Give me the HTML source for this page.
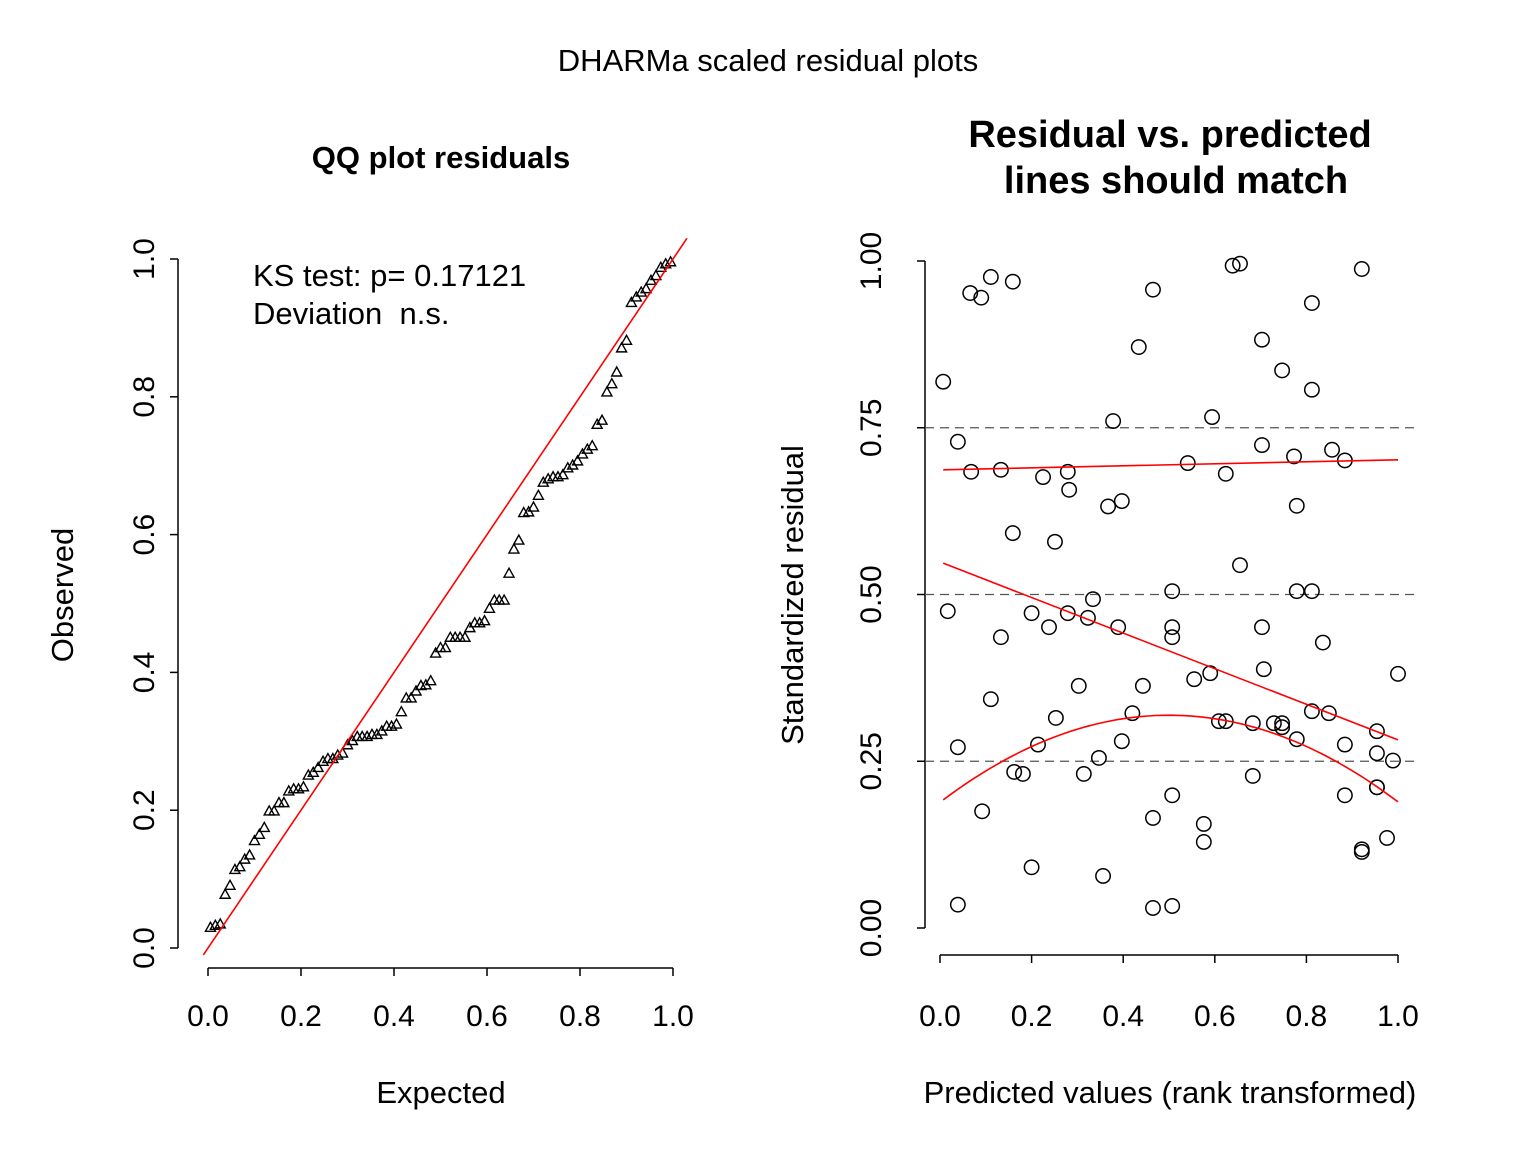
<!DOCTYPE html>
<html><head><meta charset="utf-8"><style>
body{margin:0;background:#fff}
svg{display:block;font-family:"Liberation Sans",Arial,sans-serif}
</style></head><body>
<svg id="chart" width="1536" height="1152" viewBox="0 0 1536 1152" xmlns="http://www.w3.org/2000/svg">
<rect width="1536" height="1152" fill="#fff"/>
<text x="768" y="71" font-size="31" text-anchor="middle">DHARMa scaled residual plots</text>
<text x="441" y="168" font-size="31" font-weight="bold" text-anchor="middle">QQ plot residuals</text>
<text x="1170" y="147" font-size="38" font-weight="bold" text-anchor="middle">Residual vs. predicted</text>
<text x="1176" y="193" font-size="38" font-weight="bold" text-anchor="middle">lines should match</text>
<text x="441" y="1103" font-size="31" text-anchor="middle">Expected</text>
<text transform="translate(73,595) rotate(-90)" font-size="31" text-anchor="middle">Observed</text>
<text x="1170" y="1103" font-size="31" text-anchor="middle">Predicted values (rank transformed)</text>
<text transform="translate(803,595) rotate(-90)" font-size="31" text-anchor="middle">Standardized residual</text>
<text x="253" y="286" font-size="31">KS test: p= 0.17121</text>
<text x="253" y="324" font-size="31" style="white-space:pre" xml:space="preserve">Deviation  n.s.</text>
<g id="left"></g>
<g id="right"></g>
</svg>
<script>
const predicted = [0.007,0.017,0.039,0.039,0.039,0.066,0.068,0.09,0.092,0.111,0.111,0.133,0.133,0.159,0.159,0.162,0.181,0.2,0.2,0.214,0.225,0.238,0.251,0.253,0.279,0.279,0.282,0.303,0.314,0.323,0.334,0.347,0.356,0.367,0.378,0.389,0.397,0.397,0.42,0.434,0.443,0.465,0.465,0.465,0.507,0.507,0.507,0.507,0.507,0.541,0.555,0.576,0.576,0.59,0.594,0.609,0.624,0.624,0.639,0.655,0.655,0.683,0.683,0.703,0.703,0.703,0.707,0.729,0.747,0.747,0.747,0.773,0.779,0.779,0.779,0.812,0.812,0.812,0.812,0.836,0.849,0.856,0.884,0.884,0.884,0.921,0.921,0.921,0.954,0.954,0.954,0.954,0.976,0.989,1.0];
const residual = [0.819,0.475,0.729,0.271,0.035,0.952,0.684,0.945,0.175,0.976,0.343,0.687,0.436,0.969,0.592,0.234,0.231,0.472,0.091,0.275,0.676,0.451,0.579,0.315,0.472,0.684,0.657,0.363,0.231,0.465,0.493,0.255,0.078,0.632,0.76,0.451,0.64,0.28,0.322,0.871,0.363,0.957,0.165,0.03,0.505,0.451,0.436,0.199,0.033,0.697,0.373,0.156,0.129,0.382,0.766,0.31,0.681,0.31,0.993,0.996,0.544,0.307,0.228,0.882,0.724,0.451,0.388,0.307,0.301,0.836,0.307,0.707,0.633,0.283,0.505,0.937,0.807,0.505,0.325,0.428,0.322,0.717,0.701,0.275,0.199,0.988,0.118,0.114,0.295,0.262,0.211,0.211,0.135,0.251,0.381];
const qqTicks = [0,0.2,0.4,0.6,0.8,1.0];
const qqTickLabels = ["0.0","0.2","0.4","0.6","0.8","1.0"];
const residXTicks = [0,0.2,0.4,0.6,0.8,1.0];
const residXTickLabels = ["0.0","0.2","0.4","0.6","0.8","1.0"];
const residYTicks = [0,0.25,0.5,0.75,1.0];
const residYTickLabels = ["0.00","0.25","0.50","0.75","1.00"];
const refLevels = [0.25,0.5,0.75];
const quantileFitStart = [0.687,0.547,0.192];
const quantileFitEnd = [0.702,0.282,0.189];
const quantileFitPeak = 0.319;

const NS="http://www.w3.org/2000/svg";
function mk(parent,tag,attrs){const e=document.createElementNS(NS,tag);for(const k in attrs)e.setAttribute(k,attrs[k]);parent.appendChild(e);return e;}
const lx=v=>208+v*465, ly=v=>948-v*689;
const rx=v=>940+v*458, ry=v=>928-v*667;

const L=document.getElementById('left');
let ax=mk(L,'line',{x1:lx(0),x2:lx(1),y1:968,y2:968,stroke:'#000','stroke-width':1.5});


qqTicks.forEach((t,i)=>{
  mk(L,'line',{x1:lx(t),x2:lx(t),y1:968,y2:976,stroke:'#000','stroke-width':1.5});
  const tx=mk(L,'text',{x:lx(t),y:1026,'font-size':30,'text-anchor':'middle'});tx.textContent=qqTickLabels[i];
  
  
});
ax=mk(L,'line',{x1:178,x2:178,y1:ly(0),y2:ly(1),stroke:'#000','stroke-width':1.5});


qqTicks.forEach((t,i)=>{
  mk(L,'line',{x1:170,x2:178,y1:ly(t),y2:ly(t),stroke:'#000','stroke-width':1.5});
  const tx=mk(L,'text',{transform:`translate(154,${ly(t)}) rotate(-90)`,'font-size':30,'text-anchor':'middle'});tx.textContent=qqTickLabels[i];
  
  
});
const sorted=residual.slice().sort((a,b)=>a-b);
const n=sorted.length;
sorted.forEach((v,i)=>{
  const e=(i+0.5)/n, cx=lx(e), cy=ly(v), s=5;
  const p=mk(L,'path',{d:`M${cx-s},${cy+s*0.8}L${cx+s},${cy+s*0.8}L${cx},${cy-s}Z`,fill:'none',stroke:'#000','stroke-width':1.4});
  
  
});
const ql=mk(L,'line',{x1:lx(-0.01),y1:ly(-0.01),x2:lx(1.03),y2:ly(1.03),stroke:'#f00','stroke-width':1.6});



const R=document.getElementById('right');
ax=mk(R,'line',{x1:rx(0),x2:rx(1),y1:955,y2:955,stroke:'#000','stroke-width':1.5});


residXTicks.forEach((t,i)=>{
  mk(R,'line',{x1:rx(t),x2:rx(t),y1:955,y2:963,stroke:'#000','stroke-width':1.5});
  const tx=mk(R,'text',{x:rx(t),y:1026,'font-size':30,'text-anchor':'middle'});tx.textContent=residXTickLabels[i];
  
  
});
ax=mk(R,'line',{x1:925,x2:925,y1:ry(0),y2:ry(1),stroke:'#000','stroke-width':1.5});


residYTicks.forEach((t,i)=>{
  mk(R,'line',{x1:917,x2:925,y1:ry(t),y2:ry(t),stroke:'#000','stroke-width':1.5});
  const tx=mk(R,'text',{transform:`translate(881,${ry(t)}) rotate(-90)`,'font-size':30,'text-anchor':'middle'});tx.textContent=residYTickLabels[i];
  
  
});
refLevels.forEach(v=>{
  const l=mk(R,'line',{x1:925,x2:1418,y1:ry(v),y2:ry(v),stroke:'#555','stroke-width':1.3,'stroke-dasharray':'9,6'});
  
  
});
predicted.forEach((p,i)=>{
  const c=mk(R,'circle',{cx:rx(p),cy:ry(residual[i]),r:7.2,fill:'none',stroke:'#000','stroke-width':1.5});
  
  
});
const x0=0.007,x1=1.0;
for(let k=0;k<2;k++){
  const l=mk(R,'line',{x1:rx(x0),y1:ry(quantileFitStart[k]),x2:rx(x1),y2:ry(quantileFitEnd[k]),stroke:'#f00','stroke-width':1.6});
  
  
}
{
  const a=(quantileFitPeak-quantileFitStart[2])/Math.pow(0.5-x0,2);
  const b=(quantileFitPeak-quantileFitEnd[2])/Math.pow(x1-0.5,2);
  let d='';
  for(let j=0;j<=60;j++){const x=x0+(x1-x0)*j/60;const k=x<0.5?a:b;const y=quantileFitPeak-k*(x-0.5)*(x-0.5);d+=(j?'L':'M')+rx(x).toFixed(1)+','+ry(y).toFixed(1);}
  const p=mk(R,'path',{d:d,fill:'none',stroke:'#f00','stroke-width':1.6});
  
  
}
</script>
</body></html>
